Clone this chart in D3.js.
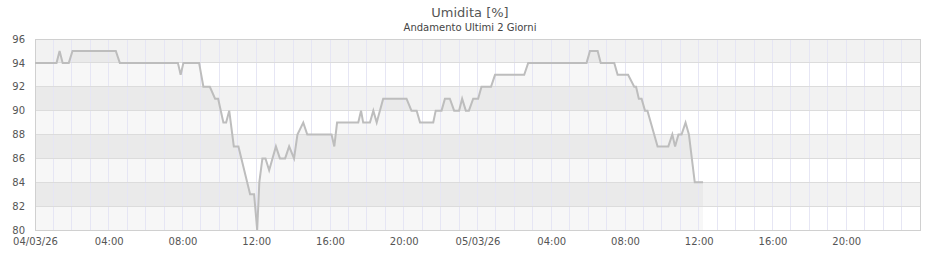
<!DOCTYPE html>
<html>
<head>
<meta charset="utf-8">
<script src="https://cdn.jsdelivr.net/npm/d3@7"></script>
<style>
  body { margin: 0; background: #fff; }
  text { font-family: "DejaVu Sans", sans-serif; }
</style>
</head>
<body>
<div id="chart"></div>
<script>
// humidity readings (breakpoints of the trace)
const times = [
  "2026-03-04 00:00", "2026-03-04 01:10", "2026-03-04 01:20", "2026-03-04 01:30", "2026-03-04 01:50",
  "2026-03-04 02:02", "2026-03-04 04:23", "2026-03-04 04:36", "2026-03-04 07:45", "2026-03-04 07:54",
  "2026-03-04 08:03", "2026-03-04 08:54", "2026-03-04 09:08", "2026-03-04 09:29", "2026-03-04 09:46",
  "2026-03-04 09:56", "2026-03-04 10:13", "2026-03-04 10:22", "2026-03-04 10:32", "2026-03-04 10:47",
  "2026-03-04 11:02", "2026-03-04 11:40", "2026-03-04 11:53", "2026-03-04 12:03", "2026-03-04 12:10",
  "2026-03-04 12:20", "2026-03-04 12:30", "2026-03-04 12:42", "2026-03-04 13:04", "2026-03-04 13:17",
  "2026-03-04 13:34", "2026-03-04 13:47", "2026-03-04 14:03", "2026-03-04 14:14", "2026-03-04 14:33",
  "2026-03-04 14:46", "2026-03-04 16:05", "2026-03-04 16:14", "2026-03-04 16:23", "2026-03-04 17:32",
  "2026-03-04 17:41", "2026-03-04 17:48", "2026-03-04 18:10", "2026-03-04 18:21", "2026-03-04 18:32",
  "2026-03-04 18:53", "2026-03-04 20:09", "2026-03-04 20:25", "2026-03-04 20:42", "2026-03-04 20:53",
  "2026-03-04 21:36", "2026-03-04 21:44", "2026-03-04 22:03", "2026-03-04 22:14", "2026-03-04 22:30",
  "2026-03-04 22:44", "2026-03-04 23:00", "2026-03-04 23:10", "2026-03-04 23:22", "2026-03-04 23:32",
  "2026-03-04 23:46", "2026-03-05 00:02", "2026-03-05 00:13", "2026-03-05 00:44", "2026-03-05 00:57",
  "2026-03-05 02:32", "2026-03-05 02:45", "2026-03-05 05:55", "2026-03-05 06:06", "2026-03-05 06:31",
  "2026-03-05 06:41", "2026-03-05 07:25", "2026-03-05 07:36", "2026-03-05 08:10", "2026-03-05 08:30",
  "2026-03-05 08:36", "2026-03-05 08:45", "2026-03-05 08:54", "2026-03-05 09:05", "2026-03-05 09:13",
  "2026-03-05 09:46", "2026-03-05 10:21", "2026-03-05 10:34", "2026-03-05 10:43", "2026-03-05 10:54",
  "2026-03-05 11:04", "2026-03-05 11:17", "2026-03-05 11:28", "2026-03-05 11:47", "2026-03-05 12:14"
];
const humidity = [
  94, 94, 95, 94, 94,
  95, 95, 94, 94, 93,
  94, 94, 92, 92, 91,
  91, 89, 89, 90, 87,
  87, 83, 83, 80, 84,
  86, 86, 85, 87, 86,
  86, 87, 86, 88, 89,
  88, 88, 87, 89, 89,
  90, 89, 89, 90, 89,
  91, 91, 90, 90, 89,
  89, 90, 90, 91, 91,
  90, 90, 91, 90, 90,
  91, 91, 92, 92, 93,
  93, 94, 94, 95, 95,
  94, 94, 93, 93, 92,
  92, 91, 91, 90, 90,
  87, 87, 88, 87, 88,
  88, 89, 88, 84, 84
];
const yTicks = [80, 82, 84, 86, 88, 90, 92, 94, 96];
const xStart = "2026-03-04 00:00";
const xEnd = "2026-03-06 00:00";

const width = 940, height = 260;
const margin = { top: 39, right: 20, bottom: 30, left: 35 };

const parse = d3.utcParse("%Y-%m-%d %H:%M");
const data = times.map((t, i) => ({ t: parse(t), v: humidity[i] }));

const svg = d3.select("#chart")
  .append("svg")
  .attr("width", width)
  .attr("height", height);

const x = d3.scaleUtc()
  .domain([parse(xStart), parse(xEnd)])
  .range([margin.left, width - margin.right]);

const y = d3.scaleLinear()
  .domain([80, 96])
  .range([height - margin.bottom, margin.top]);

// alternating bands
const bands = d3.pairs(yTicks);
svg.selectAll(".band")
  .data(bands)
  .enter().append("rect")
  .attr("class", "band")
  .attr("x", x.range()[0])
  .attr("width", x.range()[1] - x.range()[0])
  .attr("y", d => y(d[1]))
  .attr("height", d => y(d[0]) - y(d[1]))
  .attr("fill", d => ((96 - d[1]) / 2) % 2 === 0 ? "#f2f2f2" : "#ffffff");

// shaded area under the trace
const area = d3.area()
  .x(d => x(d.t))
  .y0(y(80))
  .y1(d => y(d.v));

svg.append("path")
  .datum(data)
  .attr("d", area)
  .attr("fill", "rgba(0,0,0,0.03)");

// hourly vertical grid
const hours = d3.utcHour.range(parse(xStart), parse(xEnd)).slice(1);
svg.selectAll(".vgrid")
  .data(hours)
  .enter().append("line")
  .attr("class", "vgrid")
  .attr("x1", d => x(d)).attr("x2", d => x(d))
  .attr("y1", y(96)).attr("y2", y(80))
  .attr("stroke", "#e6e6f4")
  .attr("stroke-width", 1)
  .attr("shape-rendering", "crispEdges");

// horizontal grid
svg.selectAll(".hgrid")
  .data(yTicks)
  .enter().append("line")
  .attr("class", "hgrid")
  .attr("x1", x.range()[0]).attr("x2", x.range()[1])
  .attr("y1", d => y(d)).attr("y2", d => y(d))
  .attr("stroke", "#dcdcdc")
  .attr("shape-rendering", "crispEdges");

// frame
svg.append("rect")
  .attr("x", x.range()[0])
  .attr("y", y(96))
  .attr("width", x.range()[1] - x.range()[0])
  .attr("height", y(80) - y(96))
  .attr("fill", "none")
  .attr("stroke", "#d0d0d0")
  .attr("shape-rendering", "crispEdges");

// trace
const line = d3.line()
  .x(d => x(d.t))
  .y(d => y(d.v));

svg.append("path")
  .datum(data)
  .attr("d", line)
  .attr("fill", "none")
  .attr("stroke", "#bdbdbd")
  .attr("stroke-width", 2);

// axes
const fmtDay = d3.utcFormat("%d/%m/%y");
const fmtHour = d3.utcFormat("%H:%M");
const xAxis = d3.axisBottom(x)
  .tickValues(d3.utcHour.every(4).range(parse(xStart), parse(xEnd)))
  .tickFormat(d => d.getUTCHours() === 0 ? fmtDay(d) : fmtHour(d))
  .tickSize(0)
  .tickPadding(8);

const gx = svg.append("g")
  .attr("transform", `translate(0,${y(80)})`)
  .call(xAxis);
gx.select(".domain").remove();
gx.selectAll("text")
  .attr("font-size", 10)
  .attr("fill", "#555")
  .style("font-family", "DejaVu Sans, sans-serif");

const yAxis = d3.axisLeft(y)
  .tickValues(yTicks)
  .tickSize(0)
  .tickPadding(10);

const gy = svg.append("g")
  .attr("transform", `translate(${margin.left},0)`)
  .call(yAxis);
gy.select(".domain").remove();
gy.selectAll("text")
  .attr("font-size", 10)
  .attr("fill", "#555")
  .style("font-family", "DejaVu Sans, sans-serif");

// titles
svg.append("text")
  .attr("x", 470)
  .attr("y", 17)
  .attr("text-anchor", "middle")
  .attr("font-size", 13)
  .attr("fill", "#555")
  .text("Umidita [%]");

svg.append("text")
  .attr("x", 470)
  .attr("y", 31)
  .attr("text-anchor", "middle")
  .attr("font-size", 10)
  .attr("fill", "#444")
  .text("Andamento Ultimi 2 Giorni");
</script>
</body>
</html>
